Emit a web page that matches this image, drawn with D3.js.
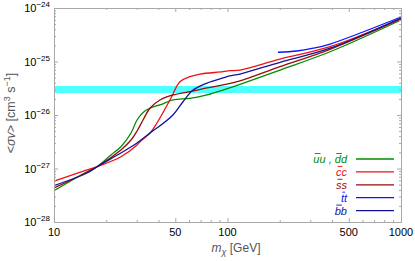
<!DOCTYPE html>
<html>
<head>
<meta charset="utf-8">
<script src="https://cdn.jsdelivr.net/npm/d3@7"></script>
<style>
  body { margin: 0; background: #fff; }
  svg { display: block; font-family: "Liberation Sans", Arial, sans-serif; }
</style>
</head>
<body>
<div id="chart"></div>
<script>
// cross section curves, [mass GeV, <sigma v> cm^3/s]
var uuddData = [[10, 3.85e-28], [15.5, 8.7e-28], [17.7, 1.08e-27], [21.3, 1.79e-27], [24.3, 2.55e-27],
    [27.8, 4.61e-27], [30.1, 8.07e-27], [33.0, 1.15e-26], [37.7, 1.43e-26], [40.8, 1.54e-26],
    [48.5, 1.91e-26], [60.8, 2.05e-26], [76.2, 2.37e-26], [94.2, 2.93e-26], [118, 3.75e-26],
    [200.8, 6.93e-26], [390, 1.52e-25], [1000, 5.97e-25]];
var ccData = [[10, 5.83e-28], [15.5, 9.4e-28], [17.7, 1.08e-27], [24.3, 1.66e-27], [30.1, 2.75e-27],
    [31.3, 3.17e-27], [35.8, 4.61e-27], [39.2, 7.08e-27], [46.6, 1.91e-26], [53.2, 4.19e-26],
    [60.8, 5.2e-26], [69.4, 5.83e-26], [94.2, 6.44e-26], [103, 6.73e-26], [118, 6.93e-26],
    [200.8, 1.11e-25], [390, 1.89e-25], [1000, 6.37e-25]];
var ssData = [[10, 4.33e-28], [17.7, 1.08e-27], [24.3, 2.22e-27], [27.8, 3.41e-27], [30.1, 5.02e-27],
    [32.6, 8.07e-27], [35.8, 1.35e-26], [40.8, 1.91e-26], [48.5, 2.37e-26], [60.8, 2.73e-26],
    [76.2, 3.2e-26], [94.2, 3.64e-26], [118, 4.33e-26], [200.8, 8.0e-26], [390, 1.69e-25],
    [1000, 6.24e-25]];
var ttData = [[195.5, 1.49e-25], [250.5, 1.57e-25], [312, 1.77e-25], [390, 2.12e-25], [1000, 6.79e-25]];
var bbData = [[10, 4.78e-28], [15.5, 8.24e-28], [17.7, 1.08e-27], [24.3, 1.95e-27], [30.1, 3.0e-27],
    [31.3, 3.3e-27], [37.7, 5.25e-27], [39.2, 5.71e-27], [48.5, 1.0e-26], [55.4, 1.77e-26],
    [63.3, 2.93e-26], [76.2, 3.96e-26], [94.2, 4.92e-26], [103, 5.36e-26], [118, 5.83e-26],
    [200.8, 9.66e-26], [390, 1.77e-25], [1000, 6.5e-25]];

// thermal relic band
var bandRange = [2.58e-26, 3.48e-26];

var xTicks = [10, 50, 100, 500, 1000];
var yTicks = [1e-28, 1e-27, 1e-26, 1e-25, 1e-24];
var yExponents = ["\u221228", "\u221227", "\u221226", "\u221225", "\u221224"];

// legend texts, and which characters get a bar on top
var legendLabels = ["uu , dd", "cc", "ss", "tt", "bb"];
var legendBars = [[0, 5], [0], [0], [0], [0]];

const width = 415;
const height = 261;
const plot = {left: 54, right: 401, top: 8, bottom: 222};

var series = [
    {data: uuddData, color: "#008c00"},
    {data: ccData,   color: "#ee1111"},
    {data: ssData,   color: "#9a0a0a"},
    {data: ttData,   color: "#0a14ff"},
    {data: bbData,   color: "#141496"}
];

var svg = d3.select("#chart").append("svg")
    .attr("width", width)
    .attr("height", height);

var xScale = d3.scaleLog().domain([10, 1000]).range([plot.left, plot.right]);
var yScale = d3.scaleLog().domain([1e-28, 1e-24]).range([plot.bottom, plot.top]);

// band
svg.append("rect")
    .attr("x", plot.left)
    .attr("width", plot.right - plot.left)
    .attr("y", yScale(bandRange[1]))
    .attr("height", yScale(bandRange[0]) - yScale(bandRange[1]))
    .attr("fill", "#4dffff");

// curves
var line = d3.line()
    .x(function(d) { return xScale(d[0]); })
    .y(function(d) { return yScale(d[1]); })
    .curve(d3.curveCatmullRom.alpha(0.5));

svg.selectAll("path.curve")
    .data(series)
    .enter()
    .append("path")
    .attr("class", "curve")
    .attr("d", function(d) { return line(d.data); })
    .attr("fill", "none")
    .attr("stroke", function(d) { return d.color; })
    .attr("stroke-width", 1.3);

// frame + ticks
var frameColor = "#a8a8a8";
var xMinor = [];
var yMinor = [];
[10, 100].forEach(function(dec) {
    for (var k = 2; k <= 9; k++) {
        if (dec * k != 50 && dec * k != 500) xMinor.push(dec * k);
    }
});
yTicks.slice(0, 4).forEach(function(dec) {
    for (var k = 2; k <= 9; k++) yMinor.push(dec * k);
});

function addAxis(axis, transform) {
    var g = svg.append("g").attr("transform", transform).call(axis);
    g.select(".domain").attr("stroke", frameColor);
    g.selectAll(".tick line").attr("stroke", frameColor);
    g.selectAll(".tick text").remove();
    return g;
}

addAxis(d3.axisBottom(xScale).tickValues(xTicks).tickSize(-4).tickSizeOuter(0), "translate(0," + plot.bottom + ")");
addAxis(d3.axisBottom(xScale).tickValues(xMinor).tickSize(-2).tickSizeOuter(0), "translate(0," + plot.bottom + ")");
addAxis(d3.axisTop(xScale).tickValues(xTicks).tickSize(-4).tickSizeOuter(0), "translate(0," + plot.top + ")");
addAxis(d3.axisTop(xScale).tickValues(xMinor).tickSize(-2).tickSizeOuter(0), "translate(0," + plot.top + ")");
addAxis(d3.axisLeft(yScale).tickValues(yTicks).tickSize(-4).tickSizeOuter(0), "translate(" + plot.left + ",0)");
addAxis(d3.axisLeft(yScale).tickValues(yMinor).tickSize(-2).tickSizeOuter(0), "translate(" + plot.left + ",0)");
addAxis(d3.axisRight(yScale).tickValues(yTicks).tickSize(-4).tickSizeOuter(0), "translate(" + plot.right + ",0)");
addAxis(d3.axisRight(yScale).tickValues(yMinor).tickSize(-2).tickSizeOuter(0), "translate(" + plot.right + ",0)");

// tick labels
svg.selectAll("text.xtick")
    .data(xTicks)
    .enter()
    .append("text")
    .attr("class", "xtick")
    .attr("x", function(d) { return xScale(d); })
    .attr("y", plot.bottom + 14)
    .attr("text-anchor", "middle")
    .attr("font-size", 11)
    .text(function(d) { return d; });

var yLabels = svg.selectAll("text.ytick")
    .data(yTicks)
    .enter()
    .append("text")
    .attr("class", "ytick")
    .attr("x", plot.left - 4)
    .attr("y", function(d) { return yScale(d) + 4; })
    .attr("text-anchor", "end")
    .attr("font-size", 11);
yLabels.append("tspan").text("10");
yLabels.append("tspan")
    .attr("font-size", 8)
    .attr("dy", -5)
    .text(function(d, i) { return yExponents[i]; });

// axis titles
var xTitle = svg.append("text")
    .attr("x", 236)
    .attr("y", 252)
    .attr("text-anchor", "middle")
    .attr("font-size", 12)
    .attr("fill", "#555");
xTitle.append("tspan").attr("font-style", "italic").text("m");
xTitle.append("tspan").attr("font-style", "italic").attr("font-size", 9).attr("dy", 3).text("\u03c7");
xTitle.append("tspan").attr("dy", -3).text(" [GeV]");

var yTitle = svg.append("text")
    .attr("transform", "translate(15,113) rotate(-90)")
    .attr("text-anchor", "middle")
    .attr("font-size", 12.5)
    .attr("fill", "#555");
yTitle.append("tspan").text("<");
yTitle.append("tspan").attr("font-style", "italic").text("\u03c3v");
yTitle.append("tspan").text("> [cm");
yTitle.append("tspan").attr("font-size", 9).attr("dy", -5).text("3");
yTitle.append("tspan").attr("dy", 5).text(" s");
yTitle.append("tspan").attr("font-size", 9).attr("dy", -5).text("\u22121");
yTitle.append("tspan").attr("dy", 5).text("]");

// legend
var legend = svg.append("g");
series.forEach(function(s, i) {
    var y = 159 + i * 12.9;
    legend.append("line")
        .attr("x1", 356).attr("x2", 394)
        .attr("y1", y).attr("y2", y)
        .attr("stroke", s.color)
        .attr("stroke-width", 1.3);
    var t = legend.append("text")
        .attr("x", 347)
        .attr("y", y + 4)
        .attr("text-anchor", "end")
        .attr("font-size", 11)
        .attr("font-style", "italic")
        .attr("fill", s.color)
        .text(legendLabels[i]);
    // bars over the antiparticle letters
    legendBars[i].forEach(function(c) {
        var box = t.node().getExtentOfChar(c);
        legend.append("line")
            .attr("x1", box.x + 1.5).attr("x2", box.x + box.width + 1)
            .attr("y1", y - 5.5).attr("y2", y - 5.5)
            .attr("stroke", s.color)
            .attr("stroke-width", 0.9);
    });
});
</script>
</body>
</html>
